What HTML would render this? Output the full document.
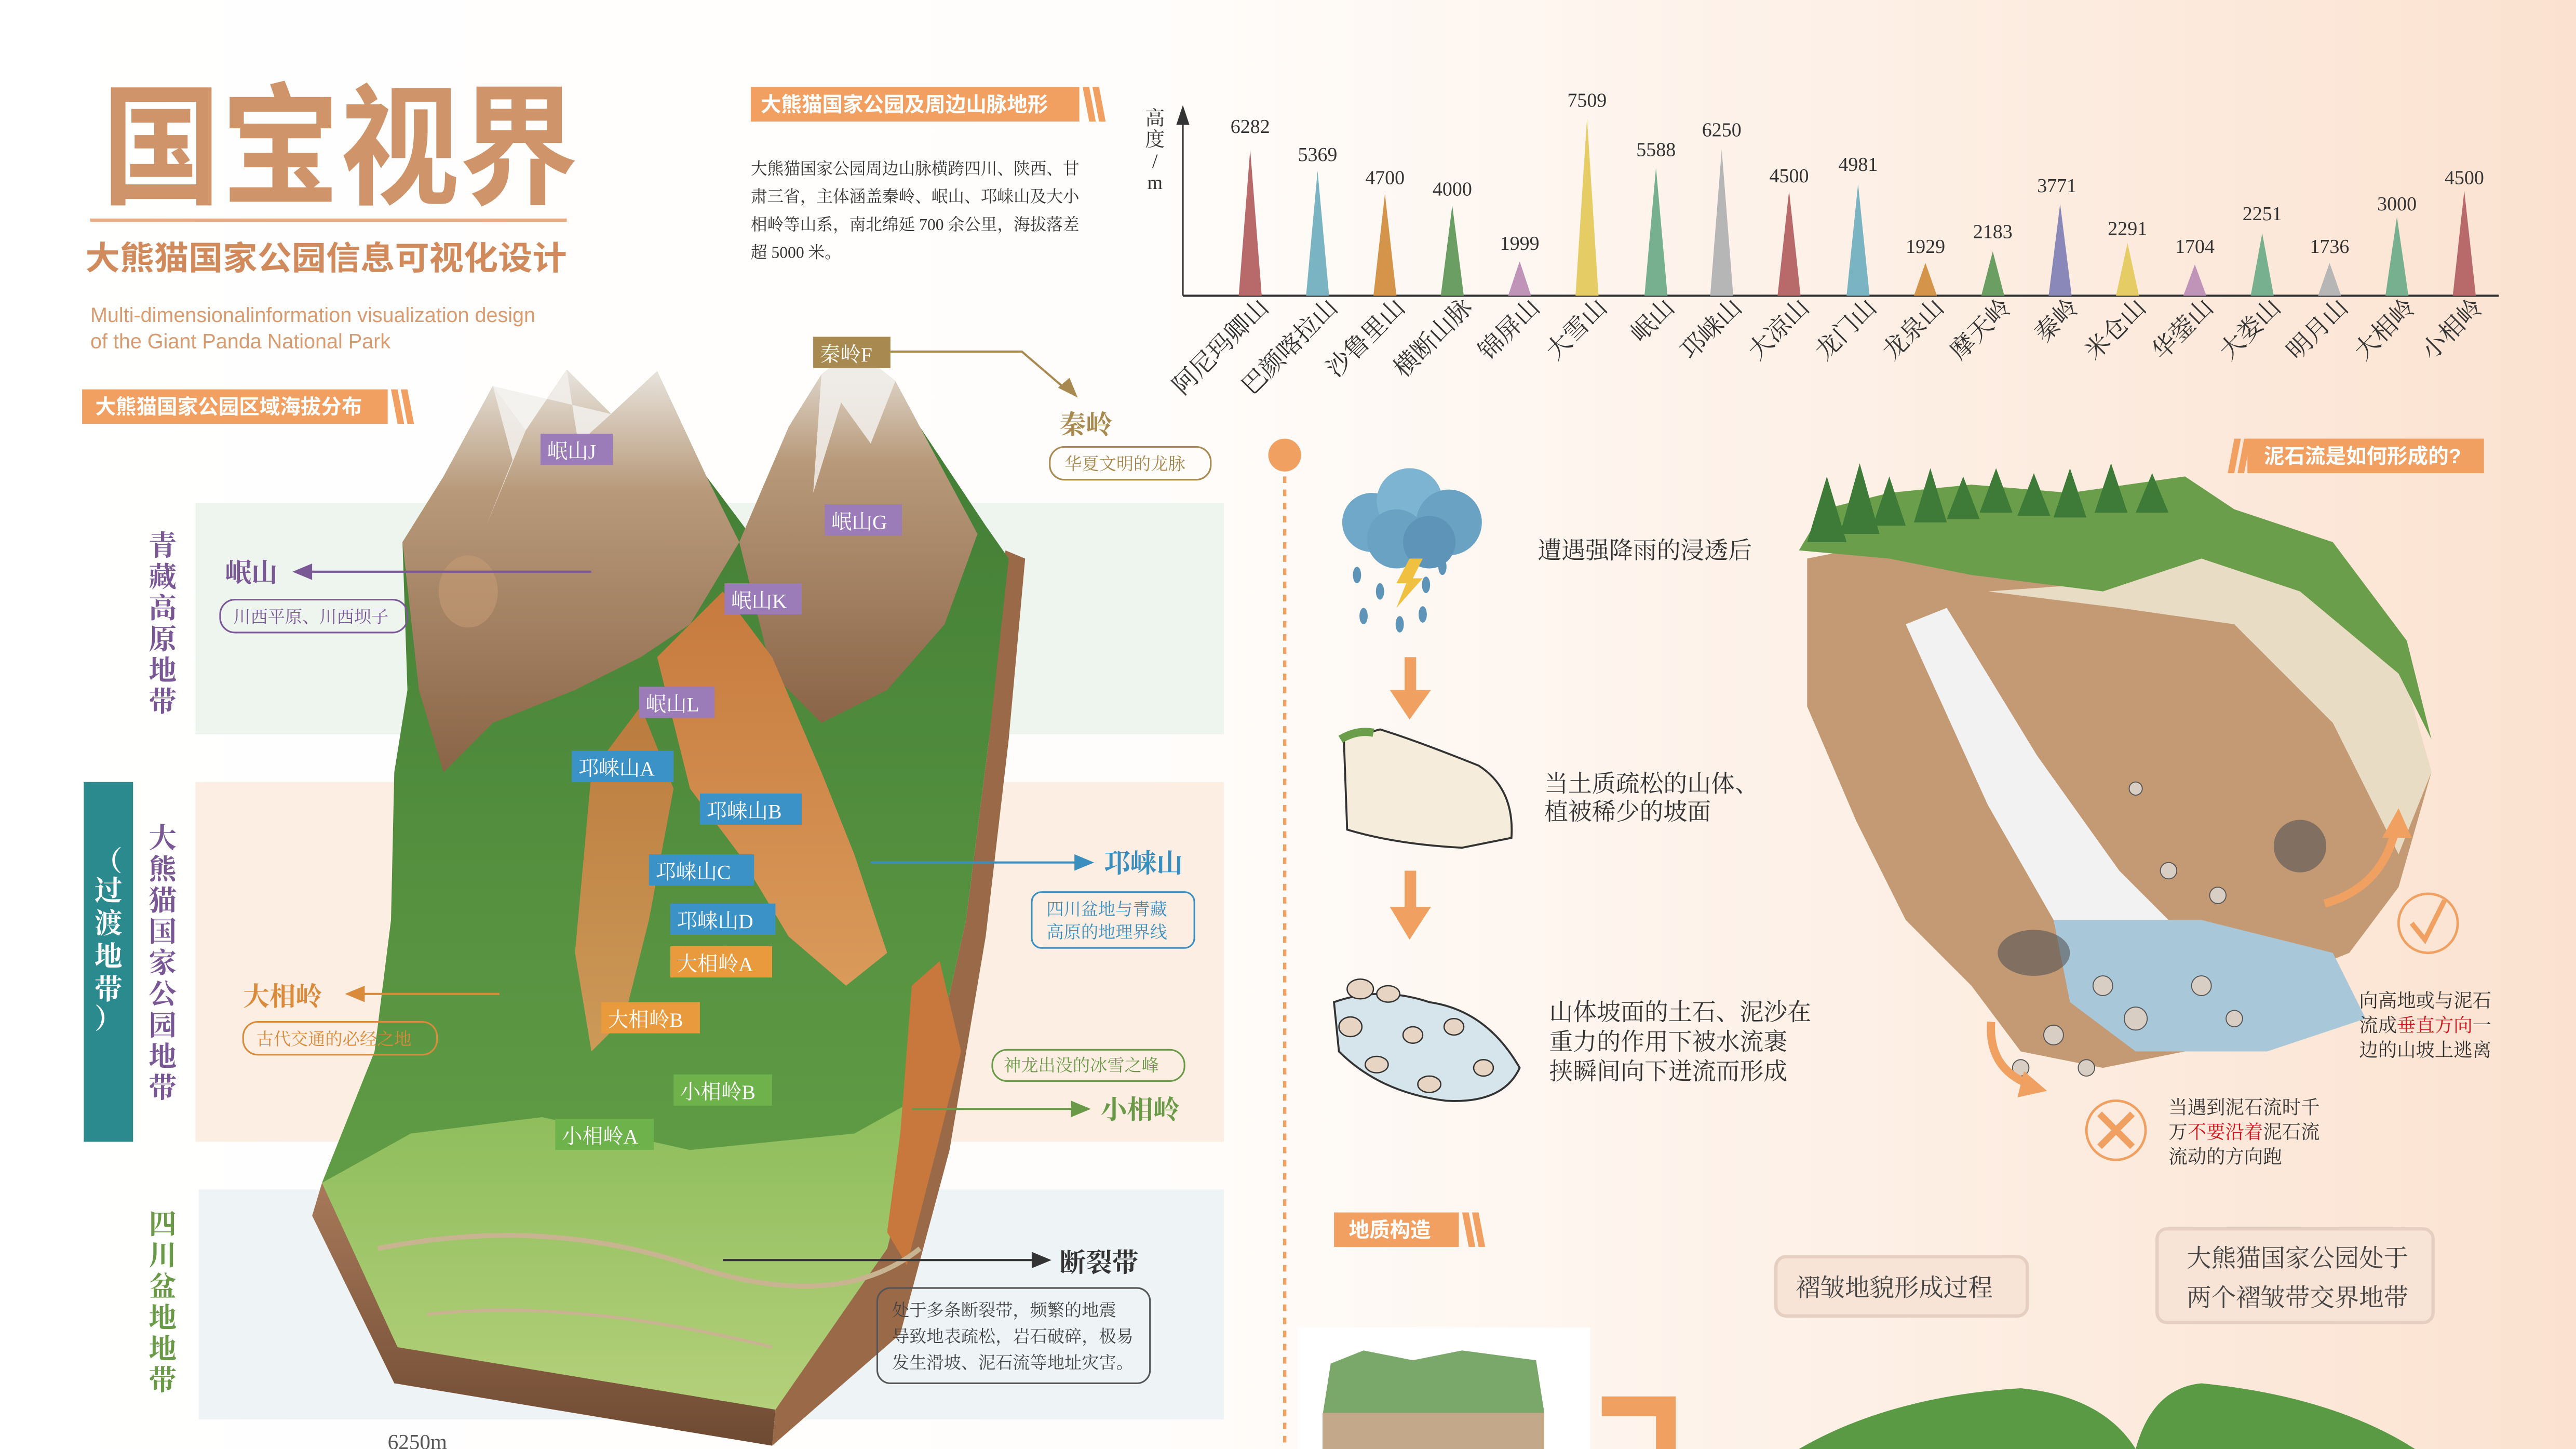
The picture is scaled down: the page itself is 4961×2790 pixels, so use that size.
<!DOCTYPE html>
<html><head><meta charset="utf-8">
<style>
html,body{margin:0;padding:0;}
body{width:4961px;height:2790px;overflow:hidden;background:#fff;}
svg{display:block;}
text{font-family:"Liberation Serif","Noto Serif CJK SC","Noto Sans CJK SC",serif;}
.s{font-family:"Liberation Sans","Noto Sans CJK SC",sans-serif;}
</style></head>
<body>
<svg width="4961" height="2790" viewBox="0 0 1568 882" preserveAspectRatio="none" xmlns="http://www.w3.org/2000/svg">
<defs>
<linearGradient id="bg" x1="0" y1="0" x2="1" y2="0">
<stop offset="0" stop-color="#ffffff"/><stop offset="0.45" stop-color="#fffdfb"/><stop offset="1" stop-color="#fbe2d0"/>
</linearGradient>
<linearGradient id="rock" x1="0" y1="0" x2="0" y2="1">
<stop offset="0" stop-color="#e8e4de"/><stop offset="0.3" stop-color="#b89a7a"/><stop offset="1" stop-color="#8a6446"/>
</linearGradient>
<linearGradient id="grn" x1="0" y1="0" x2="0" y2="1">
<stop offset="0" stop-color="#3f7a34"/><stop offset="1" stop-color="#6aa64a"/>
</linearGradient>
<linearGradient id="fg" x1="0" y1="0" x2="0" y2="1">
<stop offset="0" stop-color="#8cbc5a"/><stop offset="1" stop-color="#b4d07a"/>
</linearGradient>
<linearGradient id="org" x1="0" y1="0" x2="0" y2="1">
<stop offset="0" stop-color="#c77a3e"/><stop offset="1" stop-color="#d99a5a"/>
</linearGradient>
<linearGradient id="cliff" x1="0" y1="0" x2="0" y2="1">
<stop offset="0" stop-color="#a8795a"/><stop offset="1" stop-color="#6e4a32"/>
</linearGradient>
</defs>
<rect width="1568" height="882" fill="url(#bg)"/>

<!-- Title -->
<text x="62" y="118" font-size="80" font-weight="bold" fill="#cf946a" class="s" textLength="290" lengthAdjust="spacingAndGlyphs">国宝视界</text>
<rect x="55" y="133" width="290" height="2" fill="#e8ab84"/>
<text x="52" y="164" font-size="20" font-weight="bold" fill="#d08a5c" class="s" textLength="293" lengthAdjust="spacingAndGlyphs">大熊猫国家公园信息可视化设计</text>
<text x="55" y="196" font-size="12.5" fill="#d89a6f" class="s">Multi-dimensionalinformation visualization design</text>
<text x="55" y="212" font-size="12.5" fill="#d89a6f" class="s">of the Giant Panda National Park</text>

<!-- label altitude -->
<rect x="50" y="237" width="186" height="21" fill="#f1a062"/>
<polygon points="238,237 242,237 246,258 242,258" fill="#f1a062"/>
<polygon points="244,237 248,237 252,258 248,258" fill="#f1a062"/>
<text x="58" y="252" font-size="12.5" font-weight="bold" fill="#fff" class="s">大熊猫国家公园区域海拔分布</text>

<!-- bands -->
<rect x="119" y="306" width="626" height="141" fill="#eef5ee"/>
<rect x="119" y="476" width="626" height="219" fill="#fdeee3"/>
<rect x="121" y="724" width="624" height="140" fill="#eef3f6"/>
<rect x="51" y="476" width="30" height="219" fill="#2a8a8e"/>
<g font-size="17" font-weight="bold" fill="#fff" text-anchor="middle">
<text x="66" y="530">（</text><text x="66" y="548">过</text><text x="66" y="568">渡</text><text x="66" y="588">地</text><text x="66" y="608">带</text><text x="66" y="626">）</text>
</g>
<g font-size="17" font-weight="bold" fill="#7a5896" text-anchor="middle">
<text x="99" y="338">青</text><text x="99" y="357">藏</text><text x="99" y="376">高</text><text x="99" y="395">原</text><text x="99" y="414">地</text><text x="99" y="433">带</text>
<text x="99" y="516">大</text><text x="99" y="535">熊</text><text x="99" y="554">猫</text><text x="99" y="573">国</text><text x="99" y="592">家</text><text x="99" y="611">公</text><text x="99" y="630">园</text><text x="99" y="649">地</text><text x="99" y="668">带</text>
</g>
<g font-size="17" font-weight="bold" fill="#6a9a48" text-anchor="middle">
<text x="99" y="751">四</text><text x="99" y="770">川</text><text x="99" y="789">盆</text><text x="99" y="808">地</text><text x="99" y="827">地</text><text x="99" y="846">带</text>
</g>

<!-- Mountain -->
<g>
<polygon points="190,740 240,842 470,880 472,858 242,820 196,720" fill="url(#cliff)"/>
<polygon points="470,880 548,812 578,700 600,570 614,450 624,340 612,335 602,450 588,560 568,650 540,760 472,858" fill="#9a6a48"/>
<polygon points="196,720 228,640 238,560 240,470 248,420 245,330 270,290 300,235 320,262 345,225 372,252 400,226 430,290 460,330 480,260 500,228 520,212 545,232 560,260 600,320 614,340 602,450 588,560 568,650 540,760 472,858 242,820" fill="url(#grn)"/>
<polygon points="196,720 250,690 330,680 420,700 520,690 565,665 540,760 472,858 242,820" fill="url(#fg)"/>
<polygon points="245,330 270,290 300,235 320,262 345,225 372,252 400,226 430,290 450,330 420,380 390,400 350,420 300,440 270,470 255,420" fill="url(#rock)"/>
<polygon points="450,330 480,260 500,228 520,212 545,232 560,260 595,325 575,380 540,420 500,440 470,410" fill="url(#rock)"/>
<polygon points="300,235 312,280 296,320 320,262 345,225 352,270 372,252" fill="#f2f0ec" opacity="0.85"/>
<polygon points="500,228 520,212 545,232 530,270 512,245 495,300" fill="#f2f0ec" opacity="0.85"/>
<polygon points="400,400 440,360 470,400 500,470 520,520 540,580 515,600 480,570 450,520 420,480" fill="url(#org)"/>
<polygon points="360,470 390,430 410,480 395,560 380,620 360,640 350,580" fill="url(#org)" opacity="0.9"/>
<polygon points="555,600 572,585 585,640 570,700 552,770 540,750 548,690" fill="#c8783c"/>
<path d="M230,760 Q330,740 420,770 T560,760" stroke="#c8b490" stroke-width="3" fill="none"/>
<path d="M260,800 Q350,790 470,820" stroke="#c8b490" stroke-width="2" fill="none"/>
<ellipse cx="285" cy="360" rx="18" ry="22" fill="#c49a74" opacity="0.6"/>
</g>

<!-- mountain labels -->
<g font-size="12.5" fill="#fff">
<rect x="329" y="264" width="44" height="19" fill="#9b7bb8"/><text x="333" y="279">岷山J</text>
<rect x="502" y="307" width="47" height="19" fill="#9b7bb8"/><text x="506" y="322">岷山G</text>
<rect x="441" y="355" width="47" height="19" fill="#9b7bb8"/><text x="445" y="370">岷山K</text>
<rect x="389" y="418" width="46" height="19" fill="#9b7bb8"/><text x="393" y="433">岷山L</text>
<rect x="348" y="457" width="62" height="19" fill="#3b92c6"/><text x="352" y="472">邛崃山A</text>
<rect x="426" y="483" width="62" height="19" fill="#3b92c6"/><text x="430" y="498">邛崃山B</text>
<rect x="395" y="520" width="64" height="19" fill="#3b92c6"/><text x="399" y="535">邛崃山C</text>
<rect x="408" y="550" width="64" height="19" fill="#3b92c6"/><text x="412" y="565">邛崃山D</text>
<rect x="408" y="576" width="62" height="19" fill="#e99a3c"/><text x="412" y="591">大相岭A</text>
<rect x="366" y="610" width="60" height="19" fill="#e99a3c"/><text x="370" y="625">大相岭B</text>
<rect x="410" y="654" width="60" height="19" fill="#6eb24c"/><text x="414" y="669">小相岭B</text>
<rect x="338" y="681" width="60" height="19" fill="#6eb24c"/><text x="342" y="696">小相岭A</text>
<rect x="495" y="205" width="47" height="19" fill="#a88a50"/><text x="499" y="220">秦岭F</text>
</g>

<!-- callouts -->
<g font-size="16" font-weight="bold">
<text x="137" y="354" fill="#7a5896">岷山</text>
<text x="645" y="264" fill="#a88a50">秦岭</text>
<text x="672" y="531" fill="#3b8fbf">邛崃山</text>
<text x="148" y="612" fill="#d98a3a">大相岭</text>
<text x="670" y="681" fill="#6a9a48">小相岭</text>
<text x="645" y="774" fill="#333">断裂带</text>
</g>
<line x1="186" y1="348" x2="360" y2="348" stroke="#7a5896" stroke-width="1.3"/><polygon points="178,348 190,343 190,353" fill="#7a5896"/>
<polyline points="542,214 622,214 650,238" stroke="#a88a50" stroke-width="1.3" fill="none"/><polygon points="656,242 644,236 651,230" fill="#a88a50"/>
<line x1="530" y1="525" x2="658" y2="525" stroke="#3b8fbf" stroke-width="1.3"/><polygon points="666,525 654,520 654,530" fill="#3b8fbf"/>
<line x1="218" y1="605" x2="304" y2="605" stroke="#d98a3a" stroke-width="1.3"/><polygon points="210,605 222,600 222,610" fill="#d98a3a"/>
<line x1="555" y1="675" x2="656" y2="675" stroke="#6a9a48" stroke-width="1.3"/><polygon points="664,675 652,670 652,680" fill="#6a9a48"/>
<line x1="440" y1="767" x2="632" y2="767" stroke="#333" stroke-width="1.3"/><polygon points="640,767 628,762 628,772" fill="#333"/>

<g fill="none" stroke-width="1">
<rect x="134" y="365" width="114" height="20" rx="9" stroke="#7a5896"/>
<rect x="639" y="272" width="98" height="20" rx="9" stroke="#a88a50"/>
<rect x="628" y="543" width="99" height="34" rx="6" stroke="#3b8fbf"/>
<rect x="148" y="622" width="118" height="20" rx="9" stroke="#d98a3a"/>
<rect x="604" y="639" width="117" height="19" rx="9" stroke="#6a9a48"/>
<rect x="534" y="784" width="166" height="58" rx="8" stroke="#555"/>
</g>
<g font-size="10.5">
<text x="142" y="379" fill="#7a5896">川西平原、川西坝子</text>
<text x="648" y="286" fill="#a88a50">华夏文明的龙脉</text>
<text x="637" y="557" fill="#3b8fbf">四川盆地与青藏</text>
<text x="637" y="571" fill="#3b8fbf">高原的地理界线</text>
<text x="156" y="636" fill="#d98a3a">古代交通的必经之地</text>
<text x="611" y="652" fill="#6a9a48">神龙出没的冰雪之峰</text>
<text x="543" y="801" fill="#444">处于多条断裂带，频繁的地震</text>
<text x="543" y="817" fill="#444">导致地表疏松，岩石破碎，极易</text>
<text x="543" y="833" fill="#444">发生滑坡、泥石流等地址灾害。</text>
</g>
<text x="236" y="882" font-size="13" fill="#555">6250m</text>

<!-- middle top -->
<rect x="457" y="53" width="200" height="21" fill="#f1a062"/>
<polygon points="659,53 663,53 667,74 663,74" fill="#f1a062"/>
<polygon points="665,53 669,53 673,74 669,74" fill="#f1a062"/>
<text x="463" y="68" font-size="12.5" font-weight="bold" fill="#fff" class="s">大熊猫国家公园及周边山脉地形</text>
<g font-size="10" fill="#333">
<text x="457" y="106">大熊猫国家公园周边山脉横跨四川、陕西、甘</text>
<text x="457" y="123">肃三省，主体涵盖秦岭、岷山、邛崃山及大小</text>
<text x="457" y="140">相岭等山系，南北绵延 700 余公里，海拔落差</text>
<text x="457" y="157">超 5000 米。</text>
</g>

<!-- chart -->
<line x1="720" y1="180" x2="720" y2="72" stroke="#333" stroke-width="1"/>
<polygon points="720,64 716,76 724,76" fill="#333"/>
<line x1="720" y1="180" x2="1521" y2="180" stroke="#333" stroke-width="1.3"/>
<g font-size="12" fill="#333" class="s" text-anchor="middle">
<text x="703" y="76">高</text><text x="703" y="89">度</text><text x="703" y="102">/</text><text x="703" y="115">m</text>
</g>
<g>
<polygon points="754,180 761,91 768,180" fill="#b86a6a"/>
<polygon points="795,180 802,104 809,180" fill="#7ab4c2"/>
<polygon points="836,180 843,118 850,180" fill="#d4944a"/>
<polygon points="877,180 884,125 891,180" fill="#6a9e62"/>
<polygon points="918,180 925,159 932,180" fill="#c094b8"/>
<polygon points="959,180 966,72 973,180" fill="#e6cc64"/>
<polygon points="1001,180 1008,102 1015,180" fill="#76b08e"/>
<polygon points="1041,180 1048,91 1055,180" fill="#b6b6b6"/>
<polygon points="1082,180 1089,116 1096,180" fill="#b86a6a"/>
<polygon points="1124,180 1131,112 1138,180" fill="#7ab4c2"/>
<polygon points="1165,180 1172,160 1179,180" fill="#d4944a"/>
<polygon points="1206,180 1213,153 1220,180" fill="#6a9e62"/>
<polygon points="1247,180 1254,124 1261,180" fill="#8a88b8"/>
<polygon points="1288,180 1295,148 1302,180" fill="#e6cc64"/>
<polygon points="1329,180 1336,161 1343,180" fill="#c094b8"/>
<polygon points="1370,180 1377,142 1384,180" fill="#76b08e"/>
<polygon points="1411,180 1418,160 1425,180" fill="#b6b6b6"/>
<polygon points="1452,180 1459,132 1466,180" fill="#76b08e"/>
<polygon points="1493,180 1500,116 1507,180" fill="#b86a6a"/>
</g>
<g font-size="12" fill="#333" text-anchor="middle">
<text x="761" y="81">6282</text><text x="802" y="98">5369</text><text x="843" y="112">4700</text><text x="884" y="119">4000</text>
<text x="925" y="152">1999</text><text x="966" y="65">7509</text><text x="1008" y="95">5588</text><text x="1048" y="83">6250</text>
<text x="1089" y="111">4500</text><text x="1131" y="104">4981</text><text x="1172" y="154">1929</text><text x="1213" y="145">2183</text>
<text x="1252" y="117">3771</text><text x="1295" y="143">2291</text><text x="1336" y="154">1704</text><text x="1377" y="134">2251</text>
<text x="1418" y="154">1736</text><text x="1459" y="128">3000</text><text x="1500" y="112">4500</text>
</g>
<g font-size="15" fill="#333" class="s" text-anchor="end">
<text transform="translate(773,188) rotate(-45)">阿尼玛卿山</text>
<text transform="translate(815,188) rotate(-45)">巴颜喀拉山</text>
<text transform="translate(856,188) rotate(-45)">沙鲁里山</text>
<text transform="translate(897,188) rotate(-45)">横断山脉</text>
<text transform="translate(938,188) rotate(-45)">锦屏山</text>
<text transform="translate(979,188) rotate(-45)">大雪山</text>
<text transform="translate(1020,188) rotate(-45)">岷山</text>
<text transform="translate(1061,188) rotate(-45)">邛崃山</text>
<text transform="translate(1102,188) rotate(-45)">大凉山</text>
<text transform="translate(1143,188) rotate(-45)">龙门山</text>
<text transform="translate(1184,188) rotate(-45)">龙泉山</text>
<text transform="translate(1225,188) rotate(-45)">摩天岭</text>
<text transform="translate(1266,188) rotate(-45)">秦岭</text>
<text transform="translate(1307,188) rotate(-45)">米仓山</text>
<text transform="translate(1348,188) rotate(-45)">华蓥山</text>
<text transform="translate(1389,188) rotate(-45)">大娄山</text>
<text transform="translate(1430,188) rotate(-45)">明月山</text>
<text transform="translate(1471,188) rotate(-45)">大相岭</text>
<text transform="translate(1512,188) rotate(-45)">小相岭</text>
</g>

<!-- timeline -->
<line x1="782" y1="290" x2="782" y2="882" stroke="#f0a060" stroke-width="2" stroke-dasharray="4,4"/>
<circle cx="782" cy="277" r="10" fill="#f0a060"/>

<!-- cloud -->
<g>
<circle cx="835" cy="318" r="18" fill="#6fa8c8"/><circle cx="858" cy="305" r="20" fill="#7db4d2"/>
<circle cx="882" cy="318" r="20" fill="#6aa2c4"/><circle cx="850" cy="328" r="18" fill="#6aa2c4"/>
<circle cx="870" cy="330" r="16" fill="#5e94b8"/>
<polygon points="858,340 866,340 860,352 866,352 850,370 856,355 850,355" fill="#f0c040"/>
<g fill="#5e94b8"><ellipse cx="826" cy="350" rx="2.5" ry="5"/><ellipse cx="840" cy="360" rx="2.5" ry="5"/><ellipse cx="830" cy="375" rx="2.5" ry="5"/><ellipse cx="852" cy="380" rx="2.5" ry="5"/><ellipse cx="868" cy="356" rx="2.5" ry="5"/><ellipse cx="866" cy="374" rx="2.5" ry="5"/><ellipse cx="878" cy="345" rx="2.5" ry="5"/></g>
</g>
<g fill="#f0a060">
<rect x="855" y="400" width="7" height="25"/><polygon points="846,420 871,420 858,438"/>
<rect x="855" y="530" width="7" height="25"/><polygon points="846,552 871,552 858,572"/>
</g>
<path d="M818,450 L840,444 Q860,450 900,466 Q922,480 920,510 L890,516 Q850,514 820,505 Z" fill="#f6ecdc" stroke="#333" stroke-width="1.2"/>
<path d="M816,450 q10,-6 20,-4" stroke="#6a9e4a" stroke-width="5" fill="none"/>
<path d="M812,610 Q840,600 870,610 Q905,615 925,650 Q915,672 880,670 Q840,665 815,640 Z" fill="#d6e4ec" stroke="#333" stroke-width="1.2"/>
<g fill="#e8d4c2" stroke="#333" stroke-width="0.8">
<ellipse cx="828" cy="602" rx="8" ry="6"/><ellipse cx="845" cy="605" rx="7" ry="5"/><ellipse cx="822" cy="625" rx="7" ry="6"/><ellipse cx="860" cy="630" rx="6" ry="5"/><ellipse cx="885" cy="625" rx="6" ry="5"/><ellipse cx="838" cy="648" rx="7" ry="5"/><ellipse cx="870" cy="660" rx="7" ry="5"/><ellipse cx="903" cy="650" rx="6" ry="5"/>
</g>
<g font-size="14.5" fill="#333">
<text x="936" y="340">遭遇强降雨的浸透后</text>
<text x="940" y="482">当土质疏松的山体、</text>
<text x="940" y="499">植被稀少的坡面</text>
<text x="943" y="621">山体坡面的土石、泥沙在</text>
<text x="943" y="639">重力的作用下被水流裹</text>
<text x="943" y="657">挟瞬间向下迸流而形成</text>
</g>

<!-- debris flow label -->
<rect x="1368" y="267" width="144" height="21" fill="#f1a062"/>
<polygon points="1356,288 1360,288 1364,267 1360,267" fill="#f1a062"/>
<polygon points="1362,288 1366,288 1370,267 1366,267" fill="#f1a062"/>
<text x="1378" y="282" font-size="12.5" font-weight="bold" fill="#fff" class="s">泥石流是如何形成的?</text>

<!-- debris illustration -->
<g>
<polygon points="1100,340 1150,330 1200,345 1280,355 1340,330 1400,350 1460,400 1480,470 1460,540 1430,580 1380,600 1330,640 1280,650 1230,640 1200,600 1160,560 1130,500 1100,430" fill="#c49a74"/>
<polygon points="1210,360 1280,355 1340,330 1400,350 1460,400 1480,470 1460,520 1420,440 1360,380 1290,370" fill="#e8dcc4"/>
<polygon points="1095,335 1110,310 1150,300 1200,295 1260,300 1330,290 1360,310 1420,330 1465,390 1480,450 1460,410 1400,360 1340,340 1280,360 1200,350 1150,340" fill="#6a9e4a"/>
<g fill="#3e7a38"><polygon points="1100,330 1112,290 1124,330"/><polygon points="1120,325 1132,282 1144,325"/><polygon points="1140,320 1150,290 1160,320"/><polygon points="1165,318 1175,285 1185,318"/><polygon points="1185,316 1195,290 1205,316"/><polygon points="1205,312 1215,285 1225,312"/><polygon points="1228,314 1238,288 1248,314"/><polygon points="1250,315 1260,285 1270,315"/><polygon points="1275,312 1285,282 1295,312"/><polygon points="1300,312 1310,288 1320,312"/></g>
<polygon points="1160,380 1185,370 1240,460 1290,530 1340,580 1300,600 1250,560 1210,490" fill="#f2f2f2"/>
<polygon points="1250,560 1340,560 1420,580 1440,620 1380,640 1300,640 1260,610" fill="#a8c8da"/>
<g fill="#d8cec4" stroke="#555" stroke-width="0.6">
<circle cx="1280" cy="600" r="6"/><circle cx="1300" cy="620" r="7"/><circle cx="1340" cy="600" r="6"/><circle cx="1360" cy="620" r="5"/><circle cx="1250" cy="630" r="6"/><circle cx="1230" cy="650" r="5"/><circle cx="1270" cy="650" r="5"/><circle cx="1320" cy="530" r="5"/><circle cx="1350" cy="545" r="5"/><circle cx="1300" cy="480" r="4"/>
</g>
<ellipse cx="1238" cy="580" rx="22" ry="14" fill="#555" opacity="0.6"/>
<ellipse cx="1400" cy="515" rx="16" ry="16" fill="#555" opacity="0.6"/>
</g>
<path d="M1415,550 Q1450,540 1458,505" stroke="#f0a060" stroke-width="5" fill="none"/>
<polygon points="1450,510 1468,510 1460,492" fill="#f0a060"/>
<path d="M1212,622 Q1210,650 1235,660" stroke="#f0a060" stroke-width="5" fill="none"/>
<polygon points="1232,652 1246,664 1228,668" fill="#f0a060"/>
<circle cx="1478" cy="562" r="18" fill="none" stroke="#f0a060" stroke-width="1.5"/>
<path d="M1468,562 L1476,572 L1488,548" stroke="#f0a060" stroke-width="3" fill="none"/>
<circle cx="1288" cy="688" r="18" fill="none" stroke="#f0a060" stroke-width="1.5"/>
<path d="M1278,678 L1298,698 M1298,678 L1278,698" stroke="#f0a060" stroke-width="4"/>
<g font-size="11.5" fill="#333">
<text x="1436" y="613">向高地或与泥石</text>
<text x="1436" y="628">流成<tspan fill="#d4141c">垂直方向</tspan>一</text>
<text x="1436" y="643">边的山坡上逃离</text>
<text x="1320" y="678">当遇到泥石流时千</text>
<text x="1320" y="693">万<tspan fill="#d4141c">不要沿着</tspan>泥石流</text>
<text x="1320" y="708">流动的方向跑</text>
</g>

<!-- geology -->
<rect x="812" y="738" width="76" height="21" fill="#f1a062"/>
<polygon points="890,738 894,738 898,759 894,759" fill="#f1a062"/>
<polygon points="896,738 900,738 904,759 900,759" fill="#f1a062"/>
<text x="821" y="753" font-size="12.5" font-weight="bold" fill="#fff" class="s">地质构造</text>
<rect x="1081" y="765" width="153" height="36" rx="6" fill="#f8e4d6" stroke="#e6cfc0" stroke-width="2"/>
<text x="1093" y="789" font-size="15" fill="#444">褶皱地貌形成过程</text>
<rect x="1313" y="748" width="168" height="57" rx="6" fill="#f8e4d6" stroke="#e6cfc0" stroke-width="2"/>
<text x="1331" y="771" font-size="15" fill="#444">大熊猫国家公园处于</text>
<text x="1331" y="795" font-size="15" fill="#444">两个褶皱带交界地带</text>
<rect x="790" y="808" width="178" height="74" fill="#fff"/>
<polygon points="810,830 830,822 860,828 890,822 935,828 940,860 805,862" fill="#7aa86a"/>
<rect x="805" y="860" width="135" height="22" fill="#c4a88a"/>
<polygon points="975,850 1020,850 1020,882 1008,882 1008,862 975,862" fill="#f0a060"/>
<path d="M1095,882 Q1150,850 1230,845 Q1280,850 1300,882 Z" fill="#5a9a44"/>
<path d="M1300,882 Q1310,845 1340,842 Q1420,850 1470,882 Z" fill="#5a9a44"/>
</svg>
</body></html>
